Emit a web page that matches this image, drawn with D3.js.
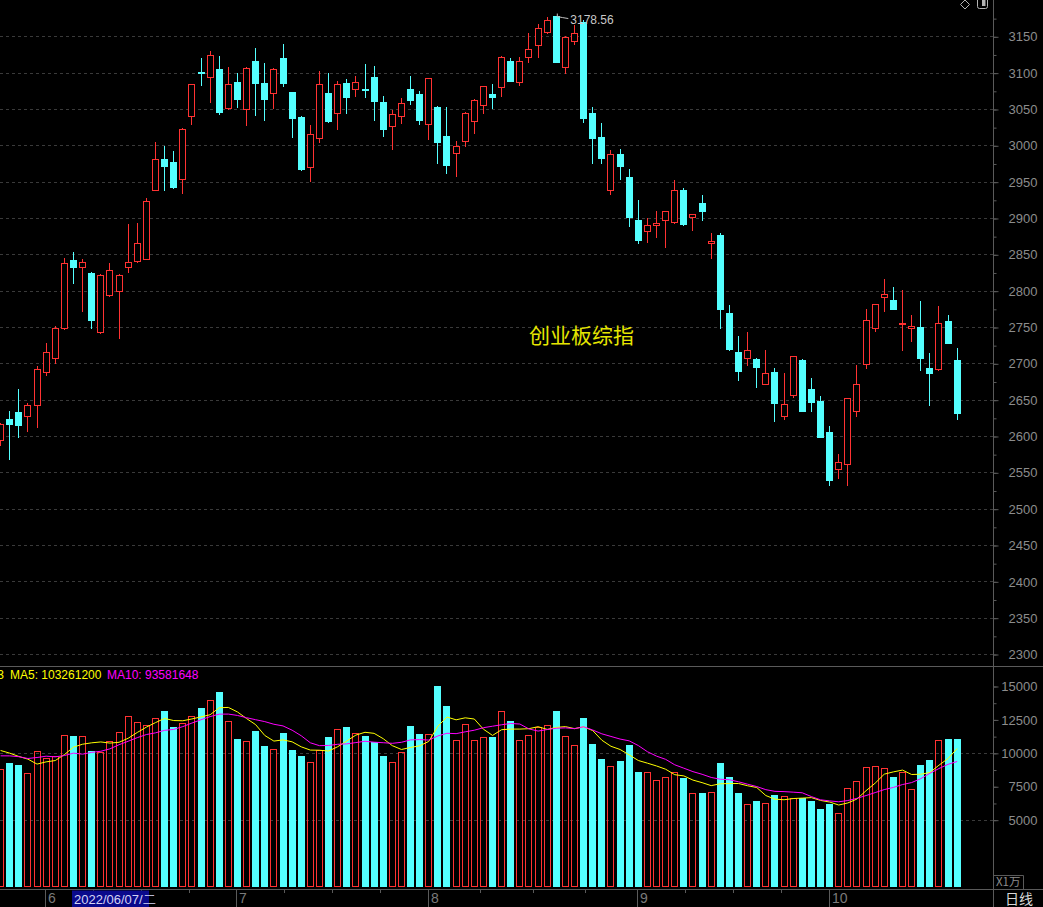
<!DOCTYPE html>
<html>
<head>
<meta charset="utf-8">
<script src="https://cdn.jsdelivr.net/npm/d3@7"></script>
<style>
body { margin: 0; background: #000; overflow: hidden; }
text { font-family: "Liberation Sans", Arial, sans-serif; }
.crisp rect, .crisp line { shape-rendering: crispEdges; }
</style>
</head>
<body>
<svg id="chart"></svg>
<script>
// trading days shown on the chart
let dates = [
  '2022-05-25','2022-05-26','2022-05-27','2022-05-30','2022-05-31',
  '2022-06-01','2022-06-02','2022-06-06','2022-06-07','2022-06-08','2022-06-09','2022-06-10',
  '2022-06-13','2022-06-14','2022-06-15','2022-06-16','2022-06-17','2022-06-20','2022-06-21',
  '2022-06-22','2022-06-23','2022-06-24','2022-06-27','2022-06-28','2022-06-29','2022-06-30',
  '2022-07-01','2022-07-04','2022-07-05','2022-07-06','2022-07-07','2022-07-08','2022-07-11',
  '2022-07-12','2022-07-13','2022-07-14','2022-07-15','2022-07-18','2022-07-19','2022-07-20',
  '2022-07-21','2022-07-22','2022-07-25','2022-07-26','2022-07-27','2022-07-28','2022-07-29',
  '2022-08-01','2022-08-02','2022-08-03','2022-08-04','2022-08-05','2022-08-08','2022-08-09',
  '2022-08-10','2022-08-11','2022-08-12','2022-08-15','2022-08-16','2022-08-17','2022-08-18',
  '2022-08-19','2022-08-22','2022-08-23','2022-08-24','2022-08-25','2022-08-26','2022-08-29',
  '2022-08-30','2022-08-31',
  '2022-09-01','2022-09-02','2022-09-05','2022-09-06','2022-09-07','2022-09-08','2022-09-09',
  '2022-09-13','2022-09-14','2022-09-15','2022-09-16','2022-09-19','2022-09-20','2022-09-21',
  '2022-09-22','2022-09-23','2022-09-26','2022-09-27','2022-09-28','2022-09-29','2022-09-30',
  '2022-10-10','2022-10-11','2022-10-12','2022-10-13','2022-10-14','2022-10-17','2022-10-18',
  '2022-10-19','2022-10-20','2022-10-21','2022-10-24','2022-10-25','2022-10-26','2022-10-27',
  '2022-10-28'
]

let opens = [
  2594,2623,2633,2628,2643,2688,2708,2748,2842,2832,2824,2743,2794,2800,2832,2841,2844,2939,2981,2977,
  2953,3041,3101,3094,3105,3052,3087,3050,3116,3086,3072,3120,3073,3039,2970,3010,3072,3044,3086,3077,
  3078,3094,3060,3026,3040,3078,3071,3029,3053,3013,2990,3006,3033,3055,3070,3080,3116,3087,3121,3138,
  3156,3178,3108,3143,3170,3045,3011,2939,2988,2956,2897,2882,2890,2897,2895,2938,2902,2921,2865,2877,
  2769,2716,2707,2706,2672,2688,2628,2656,2705,2665,2648,2605,2555,2562,2634,2699,2748,2791,2787,2754,
  2748,2750,2694,2692,2758,2704
]
let highs = [
  2618,2634,2665,2646,2696,2728,2751,2845,2853,2844,2825,2823,2838,2823,2892,2893,2928,3004,2999,2992,
  3024,3085,3120,3130,3123,3108,3099,3108,3134,3113,3106,3139,3074,3040,3028,3102,3100,3089,3091,3096,
  3112,3109,3068,3049,3065,3095,3075,3093,3054,3053,3006,3046,3064,3082,3084,3123,3120,3122,3155,3167,
  3176,3178.56,3150,3165,3172,3053,3031,2993,2995,2968,2925,2900,2910,2910,2952,2941,2906,2932,2879,2879,
  2780,2738,2743,2708,2718,2694,2687,2710,2706,2680,2655,2614,2575,2652,2698,2775,2782,2816,2805,2801,
  2767,2786,2714,2779,2767,2721
]
let lows = [
  2587,2569,2598,2607,2612,2684,2700,2747,2810,2772,2749,2742,2793,2735,2826,2840,2843,2938,2939,2941,
  2935,3029,3083,3060,3043,3050,3053,3028,3042,3035,3052,3082,3012,2966,2951,3004,3032,3022,3045,3068,
  3067,3035,3013,2995,3031,3057,3030,3009,2976,2962,2958,2999,3017,3045,3052,3068,3088,3083,3115,3121,
  3155,3114,3099,3140,3032,2976,2976,2933,2954,2889,2866,2867,2874,2860,2893,2890,2883,2897,2845,2749,
  2719,2677,2698,2668,2671,2620,2624,2654,2634,2635,2598,2533,2542,2533,2628,2693,2745,2772,2775,2719,
  2731,2691,2643,2691,2728,2624
]
let closes = [
  2617,2616,2615,2643,2692,2716,2748,2838,2832,2840,2760,2822,2829,2822,2840,2866,2924,2981,2972,2943,
  3023,3084,3100,3124,3046,3085,3064,3107,3086,3064,3105,3086,3038,2967,3015,3084,3033,3084,3066,3087,
  3077,3061,3023,3043,3058,3063,3035,3092,3005,2973,2999,3045,3063,3081,3067,3121,3089,3116,3132,3162,
  3173,3115,3149,3155,3037,3010,2983,2988,2972,2902,2870,2891,2893,2909,2939,2892,2905,2910,2868,2775,
  2720,2690,2718,2695,2687,2646,2644,2710,2635,2647,2599,2540,2564,2652,2672,2760,2781,2795,2775,2756,
  2752,2708,2687,2756,2728,2631
]
// volume in units of 10,000
let volumes = [
  8804,9253,9103,8480,10150,9627,9752,11323,11273,11248,10150,10076,10899,11572,12745,12320,12071,12595,13143,11946,
  12246,12745,13368,13941,14565,12370,11048,10899,11647,10525,10275,11497,10175,9777,9303,10225,11198,11772,11946,11497,
  11273,10799,9777,9328,10076,12021,11423,11423,15014,13517,10974,12171,10974,11198,11198,13118,12395,10974,11348,11946,
  12096,13143,11273,10600,12620,10674,9552,9003,9402,10600,8579,8554,7956,8180,8554,8130,6983,7008,7058,9253,
  8205,7008,6160,6410,6235,6859,6784,6609,6584,6410,5811,6185,5487,7357,7881,8929,9003,8854,8205,8554,
  7283,9103,9477,10949,11048,11048
]
// the nine sessions before the first visible day (only feed the moving averages)
let volBefore = [9300,9700,9826,9400,8659,10248,10348,9480,11995]

let priceTicks = [2300,2350,2400,2450,2500,2550,2600,2650,2700,2750,2800,2850,2900,2950,3000,3050,3100,3150]
let volTicks = [5000,7500,10000,12500,15000]
let volGrid = [5000,10000]
let weekDays = ['日','一','二','三','四','五','六']
let cursorDate = '2022-06-07'
let titleText = '创业板综指'
let legendItems = [
  {label: 'VOLUME: 110481443', color: '#ffff00'},
  {label: 'MA5: 103261200', color: '#ffff00'},
  {label: 'MA10: 93581648', color: '#ff00ff'}
]

let width = 1043
let height = 907
let axisX = 993
let step = 9.11
let firstCenter = 0.6
let upColor = '#ff3232'
let downColor = '#54ffff'
let lineColor = '#5a5a5a'
let labelColor = '#8c8c8c'

let svg = d3.select('#chart').attr('width', width).attr('height', height)
    .style('background', '#000')

let xScale, yPrice, yVol

function drawScale(){
    xScale = d3.scaleBand().domain(dates)
        .range([firstCenter - step/2, firstCenter - step/2 + step*dates.length])
        .paddingInner(0.23).paddingOuter(0.115)
    yPrice = d3.scaleLinear().domain([2300, 3150]).range([654, 36.3])
    yVol = d3.scaleLinear().domain([0, 15000]).range([886.5, 686])
}

function cx(d){ return xScale(d) + xScale.bandwidth()/2 }
function left(d){ return Math.round(cx(d) - 3.5) }

function drawFrame(){
    // dashed grid
    svg.append('g').selectAll('line').data(priceTicks).enter().append('line')
        .attr('x1', 0).attr('x2', axisX)
        .attr('y1', d => Math.round(yPrice(d)) + 0.5).attr('y2', d => Math.round(yPrice(d)) + 0.5)
        .attr('stroke', '#3a3a3a').attr('stroke-dasharray', '3,3')
    svg.append('g').selectAll('line').data(volGrid).enter().append('line')
        .attr('x1', 0).attr('x2', axisX)
        .attr('y1', d => Math.round(yVol(d)) + 0.5).attr('y2', d => Math.round(yVol(d)) + 0.5)
        .attr('stroke', '#3a3a3a').attr('stroke-dasharray', '3,3')

    // pane borders
    svg.append('line').attr('x1', 0).attr('x2', width).attr('y1', 666.5).attr('y2', 666.5).attr('stroke', lineColor)
    svg.append('line').attr('x1', 0).attr('x2', width).attr('y1', 889.5).attr('y2', 889.5).attr('stroke', lineColor)
    svg.append('line').attr('x1', axisX + 0.5).attr('x2', axisX + 0.5).attr('y1', 0).attr('y2', height).attr('stroke', lineColor)
}

function drawAxis(){
    let minor = d3.range(2300, 3176, 25)
    let pMinor = d3.axisRight(yPrice).tickValues(minor).tickSize(3).tickFormat('')
    svg.append('g').attr('transform', 'translate(' + (axisX + 0.5) + ',0.5)').call(pMinor)
    let pAxis = d3.axisRight(yPrice).tickValues(priceTicks).tickSize(5).tickFormat(d3.format('d'))
    let gp = svg.append('g').attr('transform', 'translate(' + (axisX + 0.5) + ',0.5)').call(pAxis)

    let vMinor = d3.axisRight(yVol).tickValues(d3.range(5000, 15001, 1250)).tickSize(3).tickFormat('')
    svg.append('g').attr('transform', 'translate(' + (axisX + 0.5) + ',0.5)').call(vMinor)
    let vAxis = d3.axisRight(yVol).tickValues(volTicks).tickSize(5).tickFormat(d3.format('d'))
    let gv = svg.append('g').attr('transform', 'translate(' + (axisX + 0.5) + ',0.5)').call(vAxis)

    svg.selectAll('.domain').remove()
    svg.selectAll('.tick line').attr('stroke', lineColor)
    ;[gp, gv].forEach(function(g){
        g.selectAll('text').attr('x', 44).attr('text-anchor', 'end')
            .attr('fill', labelColor).style('font-size', '13px')
            .style('font-family', '"Liberation Sans", Arial, sans-serif')
    })

    // month separators on the time axis
    let starts = dates.filter((d, i) => i > 0 && d.slice(5, 7) !== dates[i-1].slice(5, 7))
    let ga = svg.append('g')
    ga.selectAll('line').data(starts).enter().append('line')
        .attr('x1', d => Math.round(cx(d) - 1) + 0.5).attr('x2', d => Math.round(cx(d) - 1) + 0.5)
        .attr('y1', 890).attr('y2', height).attr('stroke', lineColor)
    ga.selectAll('text').data(starts).enter().append('text')
        .attr('x', d => Math.round(cx(d) - 1) + 3).attr('y', 903)
        .attr('fill', '#7a7a7a').style('font-size', '14px')
        .text(d => +d.slice(5, 7))

    // quarter ticks between month separators
    let quarters = []
    for (let k = 0; k < starts.length - 1; k++){
        let a = cx(starts[k]) - 1, b = cx(starts[k+1]) - 1
        for (let q = 1; q < 4; q++) quarters.push(a + (b - a)*q/4)
    }
    ga.selectAll('line.q').data(quarters).enter().append('line').attr('class', 'q')
        .attr('x1', d => Math.round(d) + 0.5).attr('x2', d => Math.round(d) + 0.5)
        .attr('y1', 890).attr('y2', 893).attr('stroke', lineColor)

    // cursor date label
    let cd = new Date(cursorDate + 'T00:00:00')
    let bx = Math.round(cx(cursorDate) - 1.3)
    ga.append('rect').attr('x', bx).attr('y', 890.5).attr('width', 77).attr('height', 16.5)
        .attr('fill', '#0a0a8c')
    ga.append('text').attr('x', bx + 2).attr('y', 903.5).attr('fill', '#d4d4f4')
        .style('font-size', '13px')
        .text(cursorDate.replace(/-/g, '/') + '/' + weekDays[cd.getDay()])

    // right bottom cells
    svg.append('text').attr('x', 1005).attr('y', 904).attr('fill', '#d8d8d8')
        .style('font-size', '14px').style('font-family', '"Noto Sans CJK SC", sans-serif').text('日线')
    svg.append('path').attr('d', 'M' + (axisX + 0.5) + ',875.5H1023.5V889').attr('fill', 'none').attr('stroke', lineColor)
    svg.append('text').attr('x', 996).attr('y', 886).attr('fill', labelColor)
        .style('font-size', '11.5px').style('font-family', '"Noto Sans CJK SC", sans-serif').text('X1万')
}

function drawCandles(){
    let data = dates.map((d, i) => ({date: d, o: opens[i], h: highs[i], l: lows[i], c: closes[i]}))
    let g = svg.append('g').attr('class', 'crisp')
    data.forEach(function(d){
        let up = d.c >= d.o
        let x = left(d.date)
        let top = Math.round(yPrice(Math.max(d.o, d.c)))
        let bot = Math.round(yPrice(Math.min(d.o, d.c)))
        let yh = Math.round(yPrice(d.h)), yl = Math.round(yPrice(d.l))
        let col = up ? upColor : downColor
        if (up){
            if (yh < top) g.append('line').attr('x1', x + 3.5).attr('x2', x + 3.5).attr('y1', yh).attr('y2', top).attr('stroke', col)
            if (yl > bot) g.append('line').attr('x1', x + 3.5).attr('x2', x + 3.5).attr('y1', bot + 1).attr('y2', yl + 1).attr('stroke', col)
            g.append('rect').attr('x', x + 0.5).attr('y', top + 0.5)
                .attr('width', 6).attr('height', Math.max(bot - top, 1))
                .attr('fill', '#000').attr('stroke', col)
        } else {
            g.append('line').attr('x1', x + 3.5).attr('x2', x + 3.5).attr('y1', yh).attr('y2', yl + 1).attr('stroke', col)
            g.append('rect').attr('x', x).attr('y', top)
                .attr('width', 7).attr('height', Math.max(bot - top, 1) + 1)
                .attr('fill', col)
        }
    })

    // highest point marker
    let hi = d3.maxIndex(highs)
    let hx = cx(dates[hi]), hy = yPrice(highs[hi])
    svg.append('path').attr('d', 'M' + (hx + 1) + ',' + (hy - 2) + 'L' + (hx + 1) + ',' + (hy + 1) +
        'L' + (hx + 6) + ',' + (hy + 2) + 'L' + (hx + 12) + ',' + (hy + 3))
        .attr('fill', 'none').attr('stroke', '#c0c0c0')
    svg.append('text').attr('x', hx + 14).attr('y', hy + 8).attr('fill', '#c8c8c8')
        .style('font-size', '12px').text(d3.format('.2f')(highs[hi]))

    svg.append('text').attr('x', 529).attr('y', 343).attr('fill', '#e6e600')
        .style('font-size', '21px').style('font-family', '"Noto Sans CJK SC", sans-serif')
        .text(titleText)
}

function drawVolume(){
    let g = svg.append('g').attr('class', 'crisp')
    let base = Math.round(yVol(0))
    dates.forEach(function(d, i){
        let up = closes[i] >= opens[i]
        let x = left(d)
        let top = Math.round(yVol(volumes[i]))
        if (up){
            g.append('rect').attr('x', x + 0.5).attr('y', top + 0.5).attr('width', 6)
                .attr('height', base - top - 1).attr('fill', 'none').attr('stroke', upColor)
        } else {
            g.append('rect').attr('x', x).attr('y', top).attr('width', 7)
                .attr('height', base - top).attr('fill', downColor)
        }
    })

    let all = volBefore.concat(volumes)
    let off = volBefore.length
    function ma(n){
        return volumes.map((v, i) => d3.mean(all.slice(i + off - n + 1, i + off + 1)))
    }
    let lines = [{vals: ma(5), color: '#ffff00'}, {vals: ma(10), color: '#ff00ff'}]
    lines.forEach(function(s){
        let line = d3.line().x((v, i) => cx(dates[i])).y(v => yVol(v))
        svg.append('path').attr('d', line(s.vals)).attr('fill', 'none')
            .attr('stroke', s.color).attr('stroke-width', 1)
    })

    // legend (the first item runs off the left edge, as on the original screen)
    let lx = [4, 10, 107]
    legendItems.forEach(function(it, k){
        svg.append('text').attr('x', lx[k]).attr('y', 679).attr('fill', it.color)
            .attr('text-anchor', k === 0 ? 'end' : 'start')
            .style('font-size', '12px').text(it.label)
    })
}

function drawIcons(){
    svg.append('path').attr('d', 'M960.5,4.5L965,0L969.5,4.5L965,9Z').attr('fill', 'none').attr('stroke', '#b4b4b4')
    svg.append('rect').attr('x', 977.5).attr('y', -2.5).attr('width', 10).attr('height', 11).attr('rx', 2)
        .attr('fill', 'none').attr('stroke', '#b4b4b4')
    svg.append('rect').attr('x', 982).attr('y', 0).attr('width', 3.5).attr('height', 6).attr('fill', '#b4b4b4')
}

drawScale()
drawFrame()
drawAxis()
drawVolume()
drawCandles()
drawIcons()
</script>
</body>
</html>
